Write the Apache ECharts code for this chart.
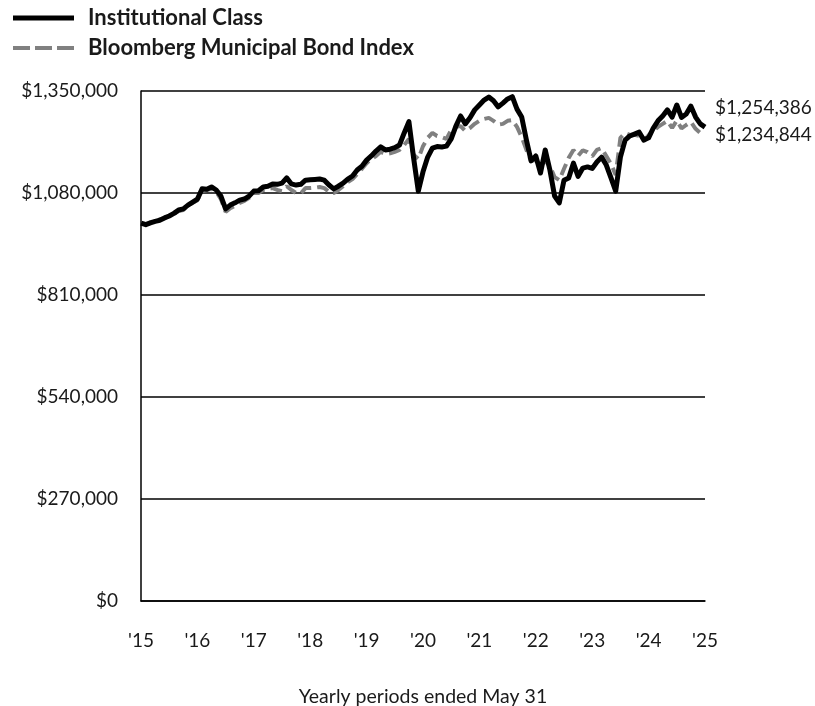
<!DOCTYPE html>
<html>
<head>
<meta charset="utf-8">
<script src="https://cdn.jsdelivr.net/npm/echarts@6/dist/echarts.min.js"></script>
<style>
html,body{margin:0;padding:0;background:#fff;}
#chart{width:815px;height:706px;}
</style>
</head>
<body>
<div id="chart"></div>
<script>
// Tick labels
const yearLabels = ["'15","'16","'17","'18","'19","'20","'21","'22","'23","'24","'25"];
const yTicks = [0, 270000, 540000, 810000, 1080000, 1350000];
const seriesNames = ["Institutional Class", "Bloomberg Municipal Bond Index"];

// Monthly values, May 2015 .. May 2025 (121 points)
const institutional = [
  1000000, 996000, 1001000, 1005000, 1008000, 1014000, 1019000, 1026000, 1035000, 1038000, 1048000, 1056000,
  1064000, 1091000, 1090000, 1096000, 1088000, 1072000, 1038000, 1048000, 1054000, 1061000, 1064000, 1072000,
  1085000, 1086000, 1096000, 1098000, 1104000, 1103000, 1106000, 1120000, 1104000, 1101000, 1103000, 1114000,
  1115000, 1116000, 1117000, 1114000, 1101000, 1091000, 1098000, 1106000, 1117000, 1125000, 1141000, 1151000,
  1167000, 1178000, 1191000, 1202000, 1194000, 1196000, 1200000, 1207000, 1239000, 1269000, 1173000, 1085000,
  1136000, 1175000, 1199000, 1203000, 1202000, 1204000, 1223000, 1257000, 1284000, 1263000, 1279000, 1300000,
  1313000, 1326000, 1334000, 1324000, 1308000, 1318000, 1329000, 1335000, 1302000, 1281000, 1220000, 1165000,
  1178000, 1133000, 1194000, 1141000, 1072000, 1054000, 1114000, 1120000, 1159000, 1124000, 1146000, 1149000,
  1145000, 1162000, 1175000, 1154000, 1120000, 1085000, 1175000, 1220000, 1231000, 1236000, 1241000, 1220000,
  1226000, 1252000, 1271000, 1284000, 1300000, 1281000, 1313000, 1280000, 1289000, 1310000, 1281000, 1263000,
  1254386
];
const bloombergMuni = [
  1000000, 998000, 1002000, 1006000, 1010000, 1014000, 1019000, 1024000, 1032000, 1035000, 1046000, 1054000,
  1061000, 1085000, 1088000, 1091000, 1083000, 1064000, 1030000, 1040000, 1046000, 1054000, 1059000, 1067000,
  1080000, 1080000, 1088000, 1091000, 1093000, 1088000, 1085000, 1098000, 1088000, 1080000, 1079000, 1093000,
  1093000, 1094000, 1096000, 1093000, 1083000, 1080000, 1088000, 1098000, 1109000, 1117000, 1130000, 1144000,
  1159000, 1170000, 1178000, 1189000, 1183000, 1185000, 1189000, 1194000, 1207000, 1223000, 1181000, 1170000,
  1204000, 1226000, 1239000, 1231000, 1228000, 1223000, 1247000, 1255000, 1257000, 1244000, 1252000, 1263000,
  1271000, 1276000, 1279000, 1271000, 1261000, 1263000, 1271000, 1273000, 1255000, 1228000, 1194000, 1165000,
  1167000, 1151000, 1165000, 1151000, 1122000, 1114000, 1144000, 1173000, 1194000, 1178000, 1193000, 1188000,
  1177000, 1194000, 1199000, 1178000, 1157000, 1128000, 1226000, 1239000, 1234000, 1234000, 1231000, 1218000,
  1233000, 1244000, 1255000, 1263000, 1271000, 1252000, 1272000, 1251000, 1260000, 1268000, 1250000, 1239000,
  1234844
];

const monthNames = ["Jan","Feb","Mar","Apr","May","Jun","Jul","Aug","Sep","Oct","Nov","Dec"];
const months = [];
for (let i = 0; i < institutional.length; i++) {
  const m = (4 + i) % 12;
  const y = 2015 + Math.floor((4 + i) / 12);
  months.push(monthNames[m] + " " + y);
}

const FONT = "Lato";
const fmtMoney = v => "$" + Math.round(v).toLocaleString("en-US");

const chart = echarts.init(document.getElementById("chart"), null, {renderer: "canvas"});
chart.setOption({
  animation: false,
  textStyle: {fontFamily: FONT},
  legend: {
    orient: "vertical",
    left: 8,
    top: 2,
    itemWidth: 61,
    itemHeight: 5,
    itemGap: 8,
    data: [
      {name: seriesNames[0], icon: "rect"},
      {name: seriesNames[1], icon: "path://M0,0h17v4h-17z M22,0h17v4h-17z M44,0h17v4h-17z"}
    ],
    textStyle: {fontFamily: FONT, fontWeight: "bold", fontSize: 22, color: "#1a1a1a", padding: [0, 0, 0, 9]}
  },
  grid: {left: 141, right: 110, top: 91, bottom: 105, containLabel: false, outerBoundsMode: "none"},
  xAxis: {
    type: "category",
    data: months,
    boundaryGap: false,
    axisLine: {show: true, lineStyle: {color: "#000", width: 1.5}},
    axisTick: {show: false},
    axisLabel: {
      interval: 11,
      margin: 30,
      fontFamily: FONT,
      fontSize: 19,
      color: "#1a1a1a",
      formatter: (v, idx) => yearLabels[Math.round(idx / 12)]
    },
    splitLine: {show: false},
    name: "Yearly periods ended May 31",
    nameLocation: "middle",
    nameGap: 86,
    nameTextStyle: {fontFamily: FONT, fontSize: 19.5, color: "#1a1a1a"}
  },
  yAxis: {
    type: "value",
    min: yTicks[0],
    max: yTicks[yTicks.length - 1],
    interval: yTicks[1] - yTicks[0],
    axisLine: {show: true, lineStyle: {color: "#000", width: 1.5}},
    axisTick: {show: false},
    axisLabel: {margin: 23, fontFamily: FONT, fontSize: 19, color: "#1a1a1a", formatter: v => fmtMoney(v)},
    splitLine: {show: true, lineStyle: {color: "#000", width: 1.5}}
  },
  series: [
    {
      name: seriesNames[0],
      type: "line",
      data: institutional,
      symbol: "none",
      z: 3,
      lineStyle: {color: "#000", width: 5, join: "round"},
      itemStyle: {color: "#000"},
      endLabel: {
        show: true,
        formatter: p => fmtMoney(p.value),
        fontFamily: FONT, fontSize: 19, color: "#1a1a1a",
        distance: 10,
        offset: [0, -19]
      }
    },
    {
      name: seriesNames[1],
      type: "line",
      data: bloombergMuni,
      symbol: "none",
      z: 2,
      lineStyle: {color: "#808080", width: 4, type: [12, 6]},
      itemStyle: {color: "#808080"},
      endLabel: {
        show: true,
        formatter: p => fmtMoney(p.value),
        fontFamily: FONT, fontSize: 19, color: "#1a1a1a",
        distance: 10,
        offset: [0, 0]
      }
    }
  ]
});
</script>
</body>
</html>
